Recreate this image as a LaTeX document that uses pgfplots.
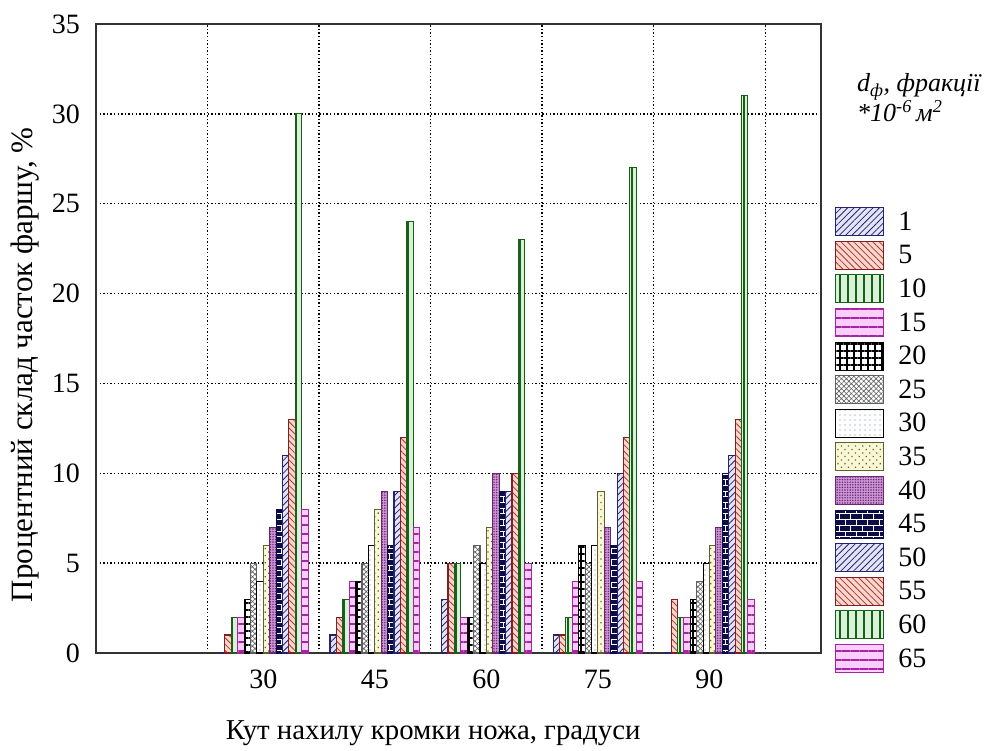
\documentclass[border=0pt]{standalone}
\usepackage{fontspec}
\setmainfont{Liberation Serif}
\usepackage{pgfplots}
\pgfplotsset{compat=1.18}
\usepackage{pgfplotstable}
\usetikzlibrary{patterns,patterns.meta}

% fill and pattern colours of the fractions
\definecolor{navyL}{RGB}{35,35,110}
\definecolor{navyB}{RGB}{228,228,246}
\definecolor{redL}{RGB}{175,55,55}
\definecolor{redD}{RGB}{130,30,30}
\definecolor{redB}{RGB}{250,215,205}
\definecolor{grnL}{RGB}{25,95,25}
\definecolor{grnB}{RGB}{215,242,215}
\definecolor{magL}{RGB}{165,35,165}
\definecolor{magB}{RGB}{250,205,250}
\definecolor{gryL}{RGB}{95,95,95}
\definecolor{bluD}{RGB}{110,130,165}
\definecolor{olvL}{RGB}{95,95,50}
\definecolor{olvB}{RGB}{250,248,212}
\definecolor{purL}{RGB}{110,35,115}
\definecolor{purB}{RGB}{200,150,210}
\definecolor{navyD}{RGB}{12,12,70}

\tikzset{
  fr1/.style={draw=navyL, preaction={fill=navyB}, pattern={Lines[angle=45,distance=4.5pt,line width=0.8pt]}, pattern color=navyL},
  fr5/.style={draw=redD, preaction={fill=redB}, pattern={Lines[angle=-45,distance=4.5pt,line width=0.8pt]}, pattern color=redL},
  fr10/.style={draw=grnL, preaction={fill=grnB}, pattern={Lines[angle=90,distance=8pt,line width=1.4pt]}, pattern color=grnL},
  fr15/.style={draw=magL, preaction={fill=magB}, pattern={Lines[angle=0,distance=9pt,line width=1.4pt]}, pattern color=magL},
  fr20/.style={draw=black, preaction={fill=white}, pattern={Hatch[angle=0,distance=7pt,line width=1.6pt]}, pattern color=black},
  fr25/.style={draw=gryL, preaction={fill=white}, pattern={Hatch[angle=45,distance=3.5pt,line width=0.6pt]}, pattern color=gryL},
  fr30/.style={draw=black, preaction={fill=white}, pattern={Dots[radius=0.7pt,distance=5pt]}, pattern color=bluD},
  fr35/.style={draw=olvL, preaction={fill=olvB}, pattern={Dots[radius=0.9pt,distance=5pt,angle=45]}, pattern color=olvL},
  fr40/.style={draw=purL, preaction={fill=purB}, pattern={Dots[radius=0.8pt,distance=2.6pt]}, pattern color=purL},
  fr45/.style={draw=navyD, preaction={fill=navyD}, pattern=bricks, pattern color=white},
}

% share of mince particles (%) for each blade angle
\pgfplotstableread{
pos f1 f5 f10 f15 f20 f25 f30 f35 f40 f45 f50 f55 f60 f65
1   0  1  2   2   3   5   4   6   7   8   11  13  30  8
2   1  2  3   4   4   5   6   8   9   6   9   12  24  7
3   3  5  5   2   2   6   5   7   10  9   9   10  23  5
4   1  1  2   4   6   5   6   9   7   6   10  12  27  4
5   0  3  2   2   3   4   5   6   7   10  11  13  31  3
}\fractions

\begin{document}
\begin{tikzpicture}[font=\fontsize{28}{33}\selectfont]
\begin{axis}[
  name=ax,
  scale only axis, width=725pt, height=629pt,
  xmin=-0.5, xmax=6, ymin=0, ymax=35,
  ytick={0,5,...,35},
  xtick={1,...,5}, xticklabels={30,45,60,75,90},
  minor xtick={0.5,1.5,...,5.5},
  xmajorgrids=false, xminorgrids=true, ymajorgrids=true,
  grid style={black, line width=1.4pt, dash pattern=on 1.4pt off 2.2pt},
  minor grid style={black, line width=1.4pt, dash pattern=on 1.4pt off 2.2pt},
  major tick length=0pt, minor tick length=0pt,
  axis line style={line width=1.3pt, black!80},
  /pgf/number format/assume math mode=true,
  yticklabel style={inner sep=0pt, anchor=east, xshift=-16pt},
  xticklabel style={inner sep=0pt, anchor=north, yshift=-17pt},
  ylabel={Процентний склад часток фаршу, \%},
  ylabel style={at={(axis description cs:-0.098,0.458)}, anchor=center,
    font=\fontsize{31}{36}\selectfont},
  xlabel={Кут нахилу кромки ножа, градуси},
  xlabel style={at={(axis description cs:0.465,-0.127)}, anchor=center,
    font=\fontsize{28.8}{34}\selectfont},
  ybar=0pt, bar width=6.4pt,
  every axis plot/.append style={line width=1.1pt},
  legend image code/.code={\draw[#1] (0pt,-14pt) rectangle (48pt,14pt);},
  legend style={at={(axis description cs:1.0193,0.7091)}, anchor=north west,
    draw=none, fill=none, inner sep=0pt, row sep=4.5pt, column sep=14pt,
    nodes={inner sep=0pt, anchor=west}},
  legend cell align=left,
]
\addplot[fr1]  table[x=pos,y=f1]  {\fractions};
\addplot[fr5]  table[x=pos,y=f5]  {\fractions};
\addplot[fr10] table[x=pos,y=f10] {\fractions};
\addplot[fr15] table[x=pos,y=f15] {\fractions};
\addplot[fr20] table[x=pos,y=f20] {\fractions};
\addplot[fr25] table[x=pos,y=f25] {\fractions};
\addplot[fr30] table[x=pos,y=f30] {\fractions};
\addplot[fr35] table[x=pos,y=f35] {\fractions};
\addplot[fr40] table[x=pos,y=f40] {\fractions};
\addplot[fr45] table[x=pos,y=f45] {\fractions};
\addplot[fr1]  table[x=pos,y=f50] {\fractions};
\addplot[fr5]  table[x=pos,y=f55] {\fractions};
\addplot[fr10] table[x=pos,y=f60] {\fractions};
\addplot[fr15] table[x=pos,y=f65] {\fractions};
\legend{1,5,10,15,20,25,30,35,40,45,50,55,60,65}
\end{axis}
% legend heading: fraction size
\node[anchor=base west, inner sep=0pt, font=\fontsize{26}{30}\selectfont\itshape]
  at ([shift={(761pt,561pt)}]ax.south west) {d\textsubscript{ф}, фракції};
\node[anchor=base west, inner sep=0pt, font=\fontsize{26}{30}\selectfont\itshape]
  at ([shift={(761pt,531pt)}]ax.south west) {*10\textsuperscript{-6}\,м\textsuperscript{2}};
\pgfresetboundingbox
\path (ax.south west) ++(-96pt,-97pt) rectangle ++(987pt,750pt);
\end{tikzpicture}
\end{document}
